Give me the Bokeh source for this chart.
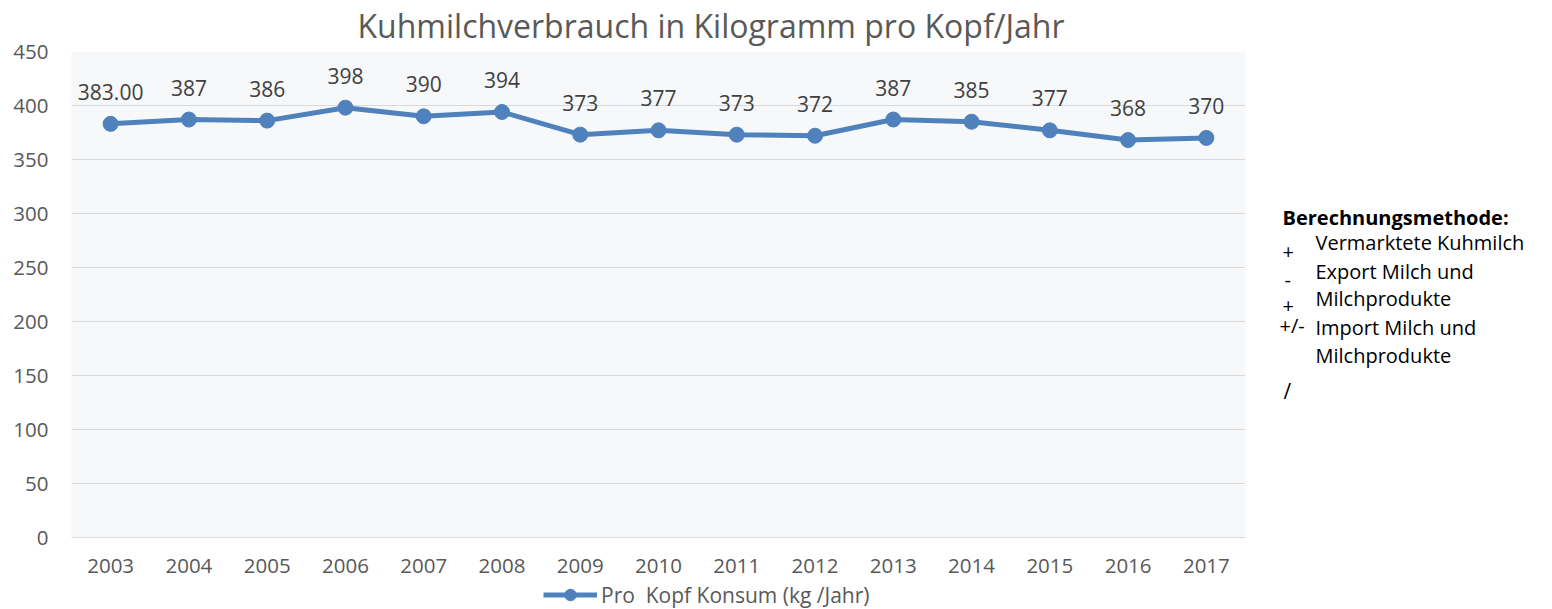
from bokeh.plotting import figure
from bokeh.layouts import column, row
from bokeh.models import (ColumnDataSource, Range1d, FixedTicker, LabelSet, Label,
                          Legend, LegendItem, FactorRange)
from bokeh.core.properties import value
from bokeh.embed import file_html
from bokeh.resources import INLINE

years = ["2003", "2004", "2005", "2006", "2007", "2008", "2009", "2010",
         "2011", "2012", "2013", "2014", "2015", "2016", "2017"]
konsum = [383, 387, 386, 398, 390, 394, 373, 377, 373, 372, 387, 385, 377, 368, 370]
value_labels = ["383.00", "387", "386", "398", "390", "394", "373", "377",
                "373", "372", "387", "385", "377", "368", "370"]
y_ticks = [0, 50, 100, 150, 200, 250, 300, 350, 400, 450]

title_text = "Kuhmilchverbrauch in Kilogramm pro Kopf/Jahr"
series_name = "Pro  Kopf Konsum (kg /Jahr)"
note_head = "Berechnungsmethode:"
note_signs = ["+", "-", "+", "+/-", "/"]
note_lines = ["Vermarktete Kuhmilch", "Export Milch und", "Milchprodukte",
              "Import Milch und", "Milchprodukte"]

FONT = "Open Sans"
BLUE = "#4F81BD"
GRAY = "#595959"

W, H = 1552, 609
LEFT_W = 1262         # width of chart column
FL, FT, FR, FB = 71, 50, 1245, 537   # frame edges in page pixels
LEG_H = 29
MAIN_H = H - LEG_H


def blank(width, height, **kw):
    f = figure(width=width, height=height, output_backend="svg", toolbar_location=None,
               x_axis_type=None, y_axis_type=None, min_border=0, **kw)
    f.outline_line_color = None
    f.background_fill_color = "white"
    f.border_fill_color = "white"
    f.xgrid.visible = False
    f.ygrid.visible = False
    return f


# ---- main chart
p = figure(width=LEFT_W, height=MAIN_H, x_range=FactorRange(*years, range_padding=0),
           y_range=Range1d(0, 450), output_backend="svg", toolbar_location=None,
           min_border_left=FL, min_border_right=LEFT_W - FR,
           min_border_top=FT, min_border_bottom=MAIN_H - FB)
p.background_fill_color = "#F6F8FA"
p.border_fill_color = "white"
p.outline_line_color = None

p.title.text = title_text
p.title.align = "left"
p.title.vertical_align = "top"
p.title.offset = 357 - FL
p.title.text_font = FONT
p.title.text_font_size = "32px"
p.title.text_font_style = "normal"
p.title.text_color = GRAY
p.title.standoff = 6

src = ColumnDataSource(dict(x=years, y=konsum, lab=value_labels))
p.line("x", "y", source=src, line_color=BLUE, line_width=5)
p.scatter("x", "y", source=src, size=15, fill_color=BLUE, line_color=BLUE)

labels = LabelSet(x="x", y="y", text="lab", source=src, y_offset=32,
                  text_align="center", text_baseline="middle",
                  text_font=value(FONT), text_font_size="21px", text_color="#404040")
p.add_layout(labels)

p.xgrid.grid_line_color = None
p.ygrid.grid_line_color = "#D9D9D9"
p.ygrid.grid_line_width = 1
p.yaxis.ticker = FixedTicker(ticks=y_ticks)
for ax in (p.xaxis[0], p.yaxis[0]):
    ax.major_tick_line_color = None
    ax.minor_tick_line_color = None
    ax.major_tick_out = 0
    ax.major_tick_in = 0
    ax.major_label_text_font = FONT
    ax.major_label_text_font_size = "20.5px"
    ax.major_label_text_color = GRAY
p.yaxis.axis_line_color = None
p.xaxis.axis_line_color = "#D9D9D9"
p.yaxis.major_label_standoff = 23
p.xaxis.major_label_standoff = 21

# ---- legend strip (renderers drawn from the same data, outside its visible range)
leg_fig = blank(LEFT_W, LEG_H, x_range=FactorRange(*years, range_padding=0),
                y_range=Range1d(0, 1))
lln = leg_fig.line("x", "y", source=src, line_color=BLUE, line_width=5)
lsc = leg_fig.scatter("x", "y", source=src, size=15, fill_color=BLUE, line_color=BLUE)
legend = Legend(items=[LegendItem(label=series_name, renderers=[lln, lsc])],
                location=(543 - FL, 0), orientation="horizontal",
                padding=0, margin=0, spacing=0, glyph_width=54, glyph_height=29,
                label_standoff=4, border_line_alpha=0, background_fill_alpha=0,
                label_text_font=FONT, label_text_font_size="21px",
                label_text_color=GRAY, label_height=29)
leg_fig.add_layout(legend, "center")

# ---- notes panel on the right
NW, NH = W - LEFT_W, H
notes = blank(NW, NH, x_range=Range1d(0, NW), y_range=Range1d(0, NH))


def nx(img_x):
    return img_x - LEFT_W


def ny(img_y):
    return H - img_y


notes.add_layout(Label(x=nx(1282), y=ny(217), x_units="screen", y_units="screen",
                       text=note_head, text_baseline="middle", text_font=FONT,
                       text_font_size="20px", text_font_style="bold", text_color="black"))
sign_pos = [(1282, 251), (1284, 279), (1282, 305), (1279, 325), (1283, 390)]
sign_size = ["20px", "20px", "20px", "20px", "21px"]
for s, (sx_, sy_), fs in zip(note_signs, sign_pos, sign_size):
    notes.add_layout(Label(x=nx(sx_), y=ny(sy_), x_units="screen", y_units="screen",
                           text=s, text_baseline="middle", text_font=FONT,
                           text_font_size=fs, text_color="black"))
line_pos = [242, 271, 298, 327, 355]
for t, ly in zip(note_lines, line_pos):
    notes.add_layout(Label(x=nx(1315), y=ny(ly), x_units="screen", y_units="screen",
                           text=t, text_baseline="middle", text_font=FONT,
                           text_font_size="20px", text_color="black"))

layout = row(column(p, leg_fig), notes)
open("out.html", "w").write(file_html(layout, INLINE))
